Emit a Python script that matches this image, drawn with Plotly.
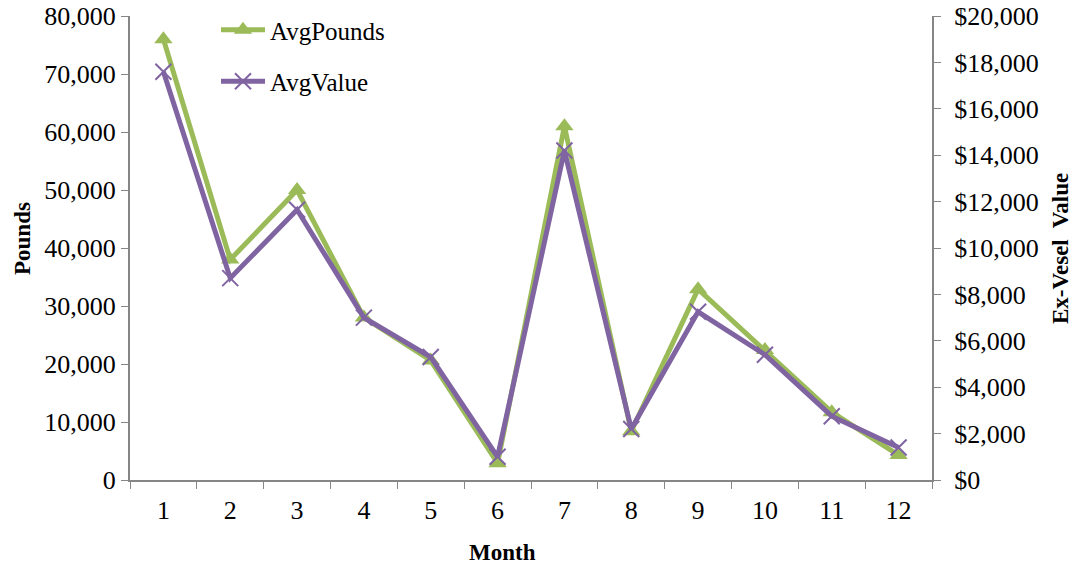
import plotly.graph_objects as go

months = ["1", "2", "3", "4", "5", "6", "7", "8", "9", "10", "11", "12"]
avg_pounds = [76000, 38000, 50000, 28000, 20600, 2900, 61000, 8400, 32900, 22400, 11700, 4300]
avg_value = [17600, 8700, 11650, 7000, 5300, 1000, 14200, 2200, 7250, 5400, 2750, 1400]

green = "#9BBB59"
purple = "#8064A2"
axis_gray = "#868686"
font_family = "Liberation Serif, Times New Roman, serif"

# page offset (browser body margin)
off = 8
W, H = 1081 - 2 * off, 573 - 2 * off
pl, pr, pt, pb = 130 - off, 932 - off, 16 - off, 480 - off

fig = go.Figure()
fig.add_trace(go.Scatter(
    x=months, y=avg_pounds, name="AvgPounds", mode="lines+markers",
    line=dict(color=green, width=5),
    marker=dict(symbol="triangle-up", size=16, color=green),
    legendgroup="a", yaxis="y",
))
fig.add_trace(go.Scatter(
    x=months, y=avg_value, name="AvgValue", mode="lines+markers",
    line=dict(color=purple, width=5),
    marker=dict(symbol="x-thin-open", size=16, color=purple, line=dict(width=2, color=purple)),
    legendgroup="b", yaxis="y2",
))


def px_x(x):
    return (x - off - pl) / (pr - pl)


def px_y(y):
    return (pb - (y - off)) / (pb - pt)


fig.update_layout(
    width=W, height=H,
    margin=dict(l=pl, r=W - pr, t=pt, b=H - pb, autoexpand=False),
    paper_bgcolor="white", plot_bgcolor="white",
    font=dict(family=font_family, size=26, color="black"),
    showlegend=True,
    legend=dict(x=px_x(216), y=px_y(7), xanchor="left", yanchor="top",
                bgcolor="rgba(0,0,0,0)", font=dict(size=25),
                itemwidth=44, tracegroupgap=16),
    xaxis=dict(
        type="category", range=[-0.5, 11.5], tickson="boundaries", ticks="outside", ticklen=7,
        tickcolor=axis_gray, showline=True, linecolor=axis_gray, linewidth=2,
        showgrid=False, zeroline=False, automargin=False, ticklabelstandoff=6,
        tickfont=dict(size=26),
    ),
    yaxis=dict(
        range=[0, 80000], dtick=10000, tickformat=",d", ticks="outside", ticklen=7,
        tickcolor=axis_gray, showline=True, linecolor=axis_gray, linewidth=2,
        showgrid=False, zeroline=False, automargin=False, ticklabeloverflow="allow",
        tickfont=dict(size=26),
    ),
    yaxis2=dict(
        range=[0, 20000], dtick=2000, tickformat="$,d", ticks="outside", ticklen=7,
        tickcolor=axis_gray, showline=True, linecolor=axis_gray, linewidth=2,
        showgrid=False, zeroline=False, overlaying="y", side="right", automargin=False,
        ticklabelstandoff=8, ticklabeloverflow="allow",
        tickfont=dict(size=26),
    ),
    annotations=[
        dict(text="<b>Month</b>", x=px_x(502), y=px_y(552), xref="paper", yref="paper",
             xanchor="center", yanchor="middle", showarrow=False, font=dict(size=23)),
        dict(text="<b>Pounds</b>", x=px_x(22), y=px_y(239), xref="paper", yref="paper",
             xanchor="center", yanchor="middle", textangle=-90, showarrow=False,
             font=dict(size=23)),
        dict(text="<b>Ex-Vesel  Value</b>", x=px_x(1060), y=px_y(249), xref="paper", yref="paper",
             xanchor="center", yanchor="middle", textangle=-90, showarrow=False,
             font=dict(size=23)),
    ],
)

fig.write_html("out.html")
